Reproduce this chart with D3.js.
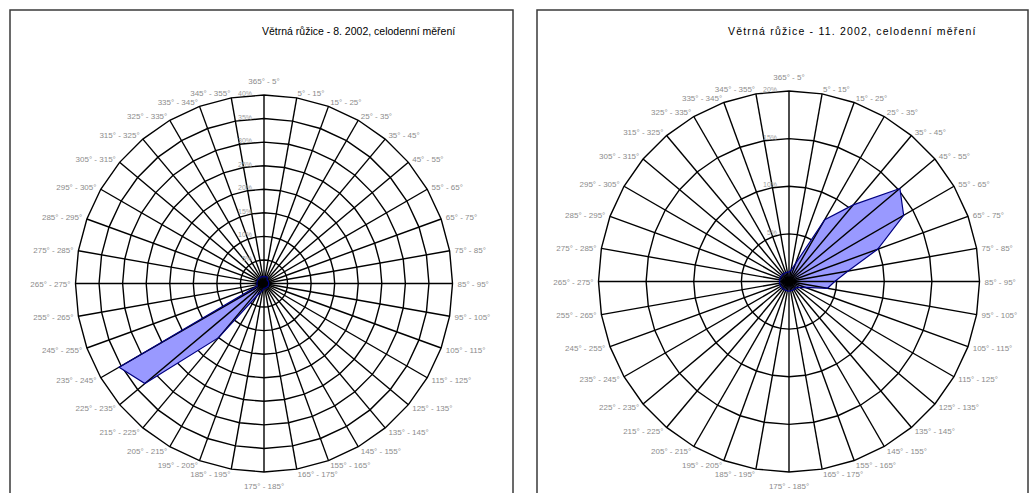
<!DOCTYPE html>
<html>
<head>
<meta charset="utf-8">
<script src="https://cdn.jsdelivr.net/npm/d3@7"></script>
<style>
  body { margin: 0; background: #fff; }
  svg { display: block; font-family: "Liberation Sans", Arial, sans-serif; }
</style>
</head>
<body>
<div id="roses"></div>

<script>

// wind direction sectors (10 degree steps, 0 = north)
let sectors = ["365° - 5°", "5° - 15°", "15° - 25°", "25° - 35°", "35° - 45°", "45° - 55°",
    "55° - 65°", "65° - 75°", "75° - 85°", "85° - 95°", "95° - 105°", "105° - 115°",
    "115° - 125°", "125° - 135°", "135° - 145°", "145° - 155°", "155° - 165°", "165° - 175°",
    "175° - 185°", "185° - 195°", "195° - 205°", "205° - 215°", "215° - 225°", "225° - 235°",
    "235° - 245°", "245° - 255°", "255° - 265°", "265° - 275°", "275° - 285°", "285° - 295°",
    "295° - 305°", "305° - 315°", "315° - 325°", "325° - 335°", "335° - 345°", "345° - 355°"];

// share of measurements per sector, %
let augValues = [1.5, 1.5, 1.5, 1.5, 1, 1, 1, 1, 1, 1, 1, 1,
    1, 1, 1, 1, 1, 1, 1, 1.5, 2, 3, 15, 33,
    35.5, 1.5, 1.5, 1.5, 1.5, 1.5, 1.5, 1.5, 1.5, 1.5, 1.5, 1.5];
let novValues = [1, 1.2, 2, 7.5, 10.5, 15.2, 13.9, 9.9, 6.3, 4.8, 4.1, 1.8,
    1.3, 1, 1, 1, 1, 1, 1, 1, 1, 1, 1, 1,
    1, 1, 1, 1, 1, 1, 1, 1, 1, 1, 1, 1];

let augTicks = [5, 10, 15, 20, 25, 30, 35, 40];
let novTicks = [5, 10, 15, 20];

let augTitle = "Větrná růžice - 8. 2002, celodenní měření";
let novTitle = "Větrná růžice - 11. 2002, celodenní měření";

let svgWidth = 1031, svgHeight = 493;

let svg = d3.select("#roses").append("svg")
    .attr("width", svgWidth)
    .attr("height", svgHeight);

function drawRose(panelX, panelW, cx, cy, R, ticks, values, title, titleX, titleSpacing) {
    svg.append("rect")
        .attr("x", panelX)
        .attr("y", 10)
        .attr("width", panelW)
        .attr("height", 520)
        .attr("fill", "none")
        .attr("stroke", "#3a3a3a")
        .attr("stroke-width", 1.5);

    svg.append("text")
        .attr("x", titleX)
        .attr("y", 35)
        .attr("font-size", "10.5px")
        .attr("letter-spacing", titleSpacing + "px")
        .attr("fill", "#000")
        .text(title);

    let g = svg.append("g")
        .attr("transform", "translate(" + cx + "," + cy + ")");

    let r = d3.scaleLinear().domain([0, d3.max(ticks)]).range([0, R]);
    let angle = d3.scaleLinear().domain([0, sectors.length]).range([0, 2 * Math.PI]);

    // rings (polygons through every spoke)
    let ring = d3.lineRadial()
        .angle(function(d, i) { return angle(i); })
        .radius(function(d) { return r(d); })
        .curve(d3.curveLinearClosed);

    g.selectAll(".ring")
        .data(ticks)
        .enter()
        .append("path")
        .attr("class", "ring")
        .attr("d", function(t) { return ring(sectors.map(function() { return t; })); })
        .attr("fill", "none")
        .attr("stroke", "#000")
        .attr("stroke-width", 1.4);

    // data area
    g.append("path")
        .datum(values)
        .attr("d", ring)
        .attr("fill", "#9999ff")
        .attr("stroke", "none");

    // spokes
    g.selectAll(".spoke")
        .data(sectors)
        .enter()
        .append("line")
        .attr("class", "spoke")
        .attr("x1", 0)
        .attr("y1", 0)
        .attr("x2", function(d, i) { return d3.pointRadial(angle(i), R)[0]; })
        .attr("y2", function(d, i) { return d3.pointRadial(angle(i), R)[1]; })
        .attr("stroke", "#000")
        .attr("stroke-width", 1.4);

    g.append("path")
        .datum(values)
        .attr("d", ring)
        .attr("fill", "none")
        .attr("stroke", "#000080")
        .attr("stroke-width", 1.2);

    // ring value labels
    g.selectAll(".tick")
        .data(ticks)
        .enter()
        .append("text")
        .attr("class", "tick")
        .attr("x", -12)
        .attr("y", function(t) { return -r(t) + 1; })
        .attr("text-anchor", "end")
        .attr("font-size", "7px")
        .attr("fill", "#a0a0a0")
        .text(function(t) { return t + "%"; });

    // sector labels
    g.selectAll(".cat")
        .data(sectors)
        .enter()
        .append("text")
        .attr("class", "cat")
        .attr("x", function(d, i) { return (R + 5) * Math.sin(angle(i)); })
        .attr("y", function(d, i) {
            let c = Math.cos(angle(i)), s = Math.sin(angle(i));
            let extra = Math.abs(s) < 0.05 ? 9 : 0;
            return -(R + 5 + extra) * c + 3;
        })
        .attr("text-anchor", function(d, i) {
            let s = Math.sin(angle(i));
            return s > 0.05 ? "start" : (s < -0.05 ? "end" : "middle");
        })
        .attr("font-size", "8px")
        .attr("fill", "#8c8c8c")
        .text(function(d) { return d; });
}

drawRose(10, 503, 264, 283.5, 188.5, augTicks, augValues, augTitle, 262, 0);
drawRose(537, 491, 789, 281.5, 190.5, novTicks, novValues, novTitle, 728, 1.2);

</script>
</body>
</html>
